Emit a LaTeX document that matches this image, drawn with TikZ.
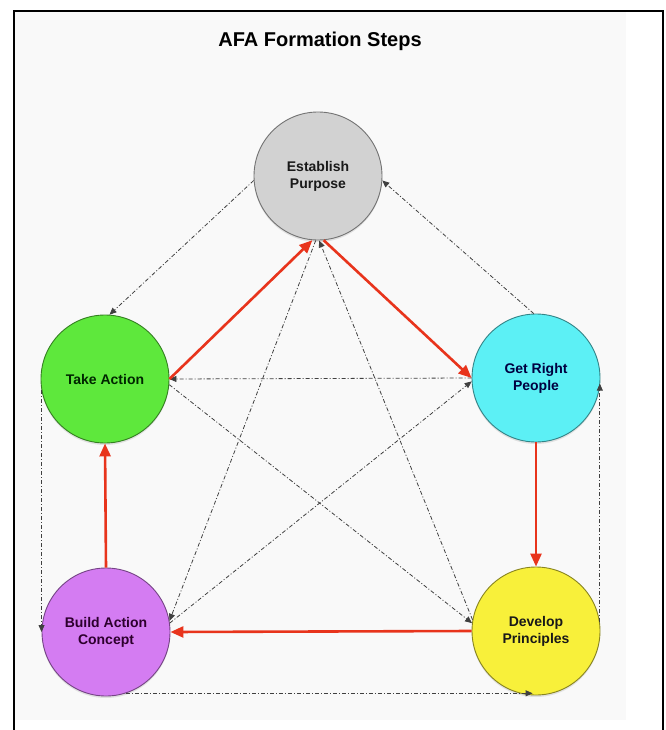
\documentclass[tikz,border=0pt]{standalone}
\usepackage{fontspec}
\setmainfont{Liberation Sans}
\usetikzlibrary{arrows.meta,shadows}
\definecolor{afared}{HTML}{E8341C}
\definecolor{pagegray}{HTML}{F9F9F9}
\definecolor{epfill}{HTML}{D2D2D2}
\definecolor{tafill}{HTML}{5EE83C}
\definecolor{gpfill}{HTML}{5CF0F5}
\definecolor{dpfill}{HTML}{F8F03A}
\definecolor{bcfill}{HTML}{D47CF2}
\tikzset{
  stepnode/.style={circle, draw=#1!55!black, fill=#1, line width=0.9pt,
    minimum size=128pt, inner sep=0pt, align=center,
    font=\bfseries\fontsize{14}{17}\selectfont,
    drop shadow={opacity=0.2, shadow xshift=0pt, shadow yshift=-2pt}},
  redarrow/.style={draw=afared, line width=2.6pt, -{Triangle[length=13pt,width=11pt]}},
  linkarrow/.style={draw=black!75, line width=0.8pt,
    dash pattern=on 4pt off 2pt on 1pt off 2pt, -{Triangle[length=7pt,width=6pt]}}
}
\begin{document}
\begin{tikzpicture}[x=1pt,y=-1pt]
\useasboundingbox (0,0) rectangle (665,730);
\fill[white] (0,0) rectangle (665,730);
\fill[pagegray] (15,12) rectangle (626,720);
\draw[line width=2pt] (14,730) -- (14,11) -- (663,11) -- (663,730);
\node (title) at (320,41) {\bfseries\fontsize{20}{24}\selectfont AFA Formation Steps};
\node[stepnode=epfill, text=black!90] (ep) at (318,176) {Establish\\Purpose};
\node[stepnode=tafill, text=black!85!green] (ta) at (105,379) {Take Action};
\node[stepnode=gpfill, text=black!75!blue] (gp) at (536,378) {Get Right\\People};
\node[stepnode=dpfill, text=black!90] (dp) at (536,631) {Develop\\Principles};
\node[stepnode=bcfill, text=black!65!violet] (bc) at (106,632) {Build Action\\Concept};
\draw[linkarrow] (ep.184) -- (ta.86);
\draw[linkarrow] (gp.92) -- (ep.-4);
\draw[linkarrow] (gp.west) -- (ta.east);
\draw[linkarrow] (ta.-5) -- (dp.173);
\draw[linkarrow] (bc.8) -- (gp.183);
\draw[linkarrow] (ep.-92) -- (bc.10);
\draw[linkarrow] (dp.170) -- (ep.-89);
\draw[linkarrow] (ta.-170) -- (ta.-170 |- bc.west);
\draw[linkarrow] (bc.-72) -- (bc.-72 -| dp.-93);
\draw[linkarrow] (dp.8) -- (dp.8 |- gp.-5);
\draw[redarrow] (ta.east) -- (ep.-95);
\draw[redarrow] (ep.-85) -- (gp.west);
\draw[redarrow] (gp.south) -- (dp.north);
\draw[redarrow] (dp.west) -- (bc.east);
\draw[redarrow] (bc.north) -- (ta.south);
\end{tikzpicture}
\end{document}
